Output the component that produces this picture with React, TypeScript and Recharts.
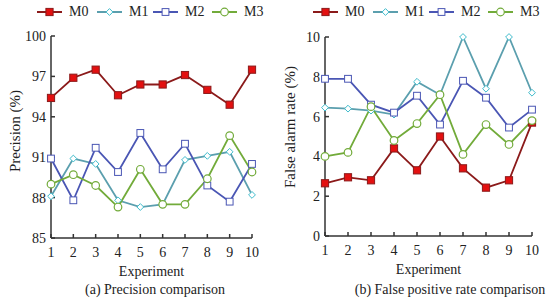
import React from 'react';
import { LineChart, Line, XAxis, YAxis } from 'recharts';

const experiments = [1, 2, 3, 4, 5, 6, 7, 8, 9, 10];
const seriesNames = ['M0', 'M1', 'M2', 'M3'];

// (a) precision, %
const precM0 = [95.4, 96.9, 97.5, 95.6, 96.4, 96.4, 97.1, 96.0, 94.9, 97.5];
const precM1 = [88.1, 90.9, 90.5, 87.8, 87.3, 87.5, 90.8, 91.1, 91.4, 88.2];
const precM2 = [90.9, 87.8, 91.7, 89.9, 92.8, 90.1, 92.0, 88.9, 87.7, 90.5];
const precM3 = [89.0, 89.7, 88.9, 87.3, 90.1, 87.5, 87.5, 89.4, 92.6, 89.9];
const precTicks = [85, 88, 91, 94, 97, 100];

// (b) false alarm rate, %
const fprM0 = [2.65, 2.95, 2.8, 4.4, 3.3, 5.0, 3.4, 2.43, 2.8, 5.7];
const fprM1 = [6.45, 6.4, 6.3, 6.1, 7.75, 7.1, 10.0, 7.4, 10.0, 7.2];
const fprM2 = [7.9, 7.9, 6.6, 6.2, 7.05, 5.6, 7.8, 6.95, 5.45, 6.35];
const fprM3 = [4.0, 4.2, 6.5, 4.8, 5.65, 7.1, 4.1, 5.6, 4.6, 5.8];
const fprTicks = [0, 2, 4, 6, 8, 10];

const FONT = '"Liberation Serif", "Times New Roman", serif';
const AXIS = '#333333';

const styles = [
  { line: '#8b1a1a', stroke: '#8b1a1a', fill: '#e31010', shape: 'square' },
  { line: '#5b9fae', stroke: '#3fbccc', fill: '#ffffff', shape: 'diamond' },
  { line: '#4a56b4', stroke: '#4a56b4', fill: '#ffffff', shape: 'square' },
  { line: '#72ab3a', stroke: '#72ab3a', fill: '#ffffff', shape: 'circle' },
];

const Marker = ({ cx, cy, idx }: { cx: number; cy: number; idx: number }) => {
  const s = styles[idx];
  if (cx == null || cy == null) return null;
  if (s.shape === 'square') {
    const h = idx === 0 ? 3.6 : 3.4;
    return <rect x={cx - h} y={cy - h} width={h * 2} height={h * 2} fill={s.fill} stroke={s.stroke} strokeWidth={1} />;
  }
  if (s.shape === 'diamond') {
    const h = 3.4;
    return <polygon points={`${cx},${cy - h} ${cx + h},${cy} ${cx},${cy + h} ${cx - h},${cy}`} fill={s.fill} stroke={s.stroke} strokeWidth={1} />;
  }
  return <circle cx={cx} cy={cy} r={3.8} fill={s.fill} stroke={s.stroke} strokeWidth={1.2} />;
};

const LegendRow = ({ left }: { left: number }) => {
  const lefts = [0, 60, 116, 175];
  return (
    <div style={{ position: 'absolute', left, top: 4, height: 16, width: 240 }}>
      {seriesNames.map((n, i) => (
        <div key={n} style={{ position: 'absolute', left: lefts[i], top: 0, display: 'flex', alignItems: 'center' }}>
          <svg width={25} height={16}>
            <line x1={0} y1={8} x2={25} y2={8} stroke={styles[i].line} strokeWidth={2} />
            <Marker cx={12.5} cy={8} idx={i} />
          </svg>
          <span style={{ fontFamily: FONT, fontSize: 14, marginLeft: 7, color: '#222', lineHeight: '16px' }}>{n}</span>
        </div>
      ))}
    </div>
  );
};

const buildRows = (a: number[], b: number[], c: number[], d: number[]) =>
  experiments.map((x, i) => ({ x, M0: a[i], M1: b[i], M2: c[i], M3: d[i] }));

const precData = buildRows(precM0, precM1, precM2, precM3);
const fprData = buildRows(fprM0, fprM1, fprM2, fprM3);

const tickStyle = { fontFamily: FONT, fontSize: 14, fill: '#222' };

const YTitle = ({ text, cx, cy }: { text: string; cx: number; cy: number }) => (
  <text x={cx} y={cy} transform={`rotate(-90 ${cx} ${cy})`} textAnchor="middle" dominantBaseline="central" fontFamily={FONT} fontSize={15} fill="#222">
    {text}
  </text>
);

const XTitle = ({ viewBox }: any) => (
  <text x={viewBox.x + viewBox.width / 2} y={viewBox.y + 38} textAnchor="middle" fontFamily={FONT} fontSize={14} fill="#222">
    Experiment
  </text>
);

const Panel = ({ data, ticks, domain, yLabel, margin, yWidth, labelX, labelY }: any) => (
  <LineChart width={275} height={303} data={data} margin={margin}>
    <XAxis
      dataKey="x"
      type="number"
      domain={[1, 10]}
      ticks={experiments}
      tick={tickStyle}
      stroke={AXIS}
      strokeWidth={1.5}
      tickSize={-4}
      tickMargin={13}
      height={40}
      interval={0}
      label={<XTitle />}
    />
    <YAxis
      type="number"
      domain={domain}
      ticks={ticks}
      tick={tickStyle}
      stroke={AXIS}
      strokeWidth={1.5}
      tickSize={-4}
      tickMargin={9}
      width={yWidth}
      interval={0}
      label={() => <YTitle text={yLabel} cx={labelX} cy={labelY} />}
    />
    {seriesNames.map((n, i) => (
      <Line
        key={n}
        dataKey={n}
        stroke={styles[i].line}
        strokeWidth={1.8}
        isAnimationActive={false}
        dot={(p: any) => <Marker key={`${n}-${p.index}`} cx={p.cx} cy={p.cy} idx={i} />}
        activeDot={false}
      />
    ))}
  </LineChart>
);

export default function App() {
  return (
    <div style={{ position: 'absolute', left: 0, top: 0, width: 550, height: 303, background: '#fff', overflow: 'hidden' }}>
      <div style={{ position: 'absolute', left: 0, top: 0 }}>
        <Panel data={precData} ticks={precTicks} domain={[85, 100]} yLabel="Precision (%)" yWidth={51} labelX={15} labelY={131} margin={{ top: 36, right: 23, bottom: 25, left: 0 }} />
      </div>
      <div style={{ position: 'absolute', left: 275, top: 0 }}>
        <Panel data={fprData} ticks={fprTicks} domain={[0, 10]} yLabel="False alarm rate (%)" yWidth={50} labelX={15} labelY={127} margin={{ top: 37, right: 18, bottom: 27, left: 0 }} />
      </div>
      <LegendRow left={37} />
      <LegendRow left={313} />
      <div style={{ position: 'absolute', left: 55, width: 200, top: 282, textAlign: 'center', fontFamily: FONT, fontSize: 14, color: '#222' }}>
        (a) Precision comparison
      </div>
      <div style={{ position: 'absolute', left: 340, width: 220, top: 282, textAlign: 'center', fontFamily: FONT, fontSize: 14, color: '#222' }}>
        (b) False positive rate comparison
      </div>
    </div>
  );
}
